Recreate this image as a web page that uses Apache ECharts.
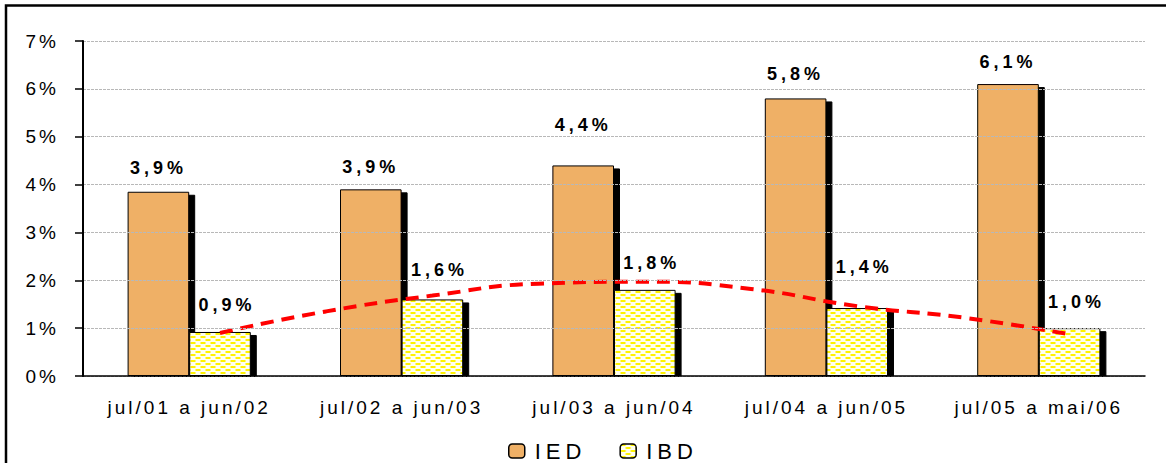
<!DOCTYPE html>
<html>
<head>
<meta charset="utf-8">
<script src="https://cdn.jsdelivr.net/npm/echarts@6/dist/echarts.min.js"></script>
<style>
  html, body { margin: 0; padding: 0; background: #fff; }
  #chart { width: 1166px; height: 463px; }
</style>
</head>
<body>
<div id="chart"></div>
<script>
// ---- data ----
const categories = ['jul/01 a jun/02', 'jul/02 a jun/03', 'jul/03 a jun/04', 'jul/04 a jun/05', 'jul/05 a mai/06'];
const iedValues = [3.85, 3.9, 4.4, 5.8, 6.1];
const ibdValues = [0.92, 1.6, 1.8, 1.42, 1.0];
// trend line readings (red dashed), at each IBD bar centre and halfway between
const trendSteps = [0, 0.5, 1, 1.5, 2, 2.5, 3, 3.5, 4];
const trendValues = [0.9, 1.35, 1.68, 1.93, 1.97, 1.82, 1.46, 1.22, 0.87];
const yTicks = [0, 1, 2, 3, 4, 5, 6, 7];

// ---- layout / style ----
const BAR_FRAC = 0.29;           // bar width as fraction of category band
const FONT = 'Liberation Sans, Arial, sans-serif';
const iedLabelDist = [15, 13, 31, 15, 13];
const ibdLabelDist = [18, 20, 18, 32, 17];
const ibdLabelDx = 7;

const fmt = v => v.toFixed(1).replace('.', ',') + '%';

const trendData = trendSteps.map((s, i) => [s + 0.5 + BAR_FRAC / 2, trendValues[i]]);

// IBD fill pattern: pale cream with staggered yellow dashes
function makePattern() {
  const c = document.createElement('canvas');
  c.width = 10; c.height = 6;
  const g = c.getContext('2d');
  g.fillStyle = '#FFFFF2';
  g.fillRect(0, 0, 10, 6);
  g.fillStyle = '#FFF200';
  g.fillRect(0.5, 0, 5, 2);
  g.fillRect(5.5, 3, 5, 2);
  g.fillRect(-4.5, 3, 5, 2);
  return c;
}
const ibdFill = { image: makePattern(), repeat: 'repeat' };

const shadow = { shadowColor: '#000', shadowBlur: 0, shadowOffsetX: 6, shadowOffsetY: 3 };

const chart = echarts.init(document.getElementById('chart'), null, { renderer: 'svg' });
chart.setOption({
  animation: false,
  backgroundColor: '#fff',
  textStyle: { fontFamily: FONT },
  graphic: [{
    type: 'rect', z: 100, silent: true,
    shape: { x: 6, y: 5.5, width: 1175, height: 475 },
    style: { fill: 'none', stroke: '#000', lineWidth: 2.5 }
  }, {
    // hides the part of the bar shadows that falls below the category axis
    type: 'rect', z: 6, silent: true,
    shape: { x: 84, y: 377, width: 1070, height: 6 },
    style: { fill: '#fff' }
  }],
  grid: { left: 83, right: 21, top: 41, bottom: 87, containLabel: false },
  legend: {
    left: 503, top: 435,
    itemWidth: 16, itemHeight: 14, itemGap: 48,
    data: ['IED', 'IBD'],
    textStyle: { fontSize: 22, color: '#000', fontFamily: FONT, padding: [0, 0, 0, 5] },
    itemStyle: { borderColor: '#000', borderWidth: 1.5, shadowBlur: 0, shadowOffsetX: 0, shadowOffsetY: 0, shadowColor: 'rgba(0,0,0,0)' }
  },
  xAxis: [{
    type: 'category', data: categories, z: 10,
    axisLine: { lineStyle: { color: '#000', width: 1.5 } },
    axisTick: { length: 6, lineStyle: { color: '#000', width: 1.5 } },
    axisLabel: { color: '#000', fontSize: 19, margin: 22, fontFamily: FONT, interval: 0 },
    splitLine: { show: false }
  }, {
    type: 'value', min: 0, max: categories.length, show: false
  }],
  yAxis: {
    type: 'value', min: yTicks[0], max: yTicks[yTicks.length - 1], interval: 1, z: 10,
    axisLine: { show: true, lineStyle: { color: '#000', width: 2 } },
    axisTick: { show: true, length: 8, lineStyle: { color: '#000', width: 1.5 } },
    axisLabel: { color: '#000', fontSize: 19, margin: 24, fontFamily: FONT, formatter: '{value}%' },
    splitLine: { show: true, lineStyle: { color: '#b8b8b8', type: [3, 1], width: 1 } }
  },
  series: [{
    name: 'IED', type: 'bar', barWidth: (BAR_FRAC * 100) + '%', barGap: '0%',
    data: iedValues.map((v, i) => ({ value: v, label: { distance: iedLabelDist[i] } })),
    itemStyle: Object.assign({ color: '#EFB066', borderColor: '#000', borderWidth: 1 }, shadow),
    label: { show: true, position: 'top', color: '#000', fontWeight: 'bold', fontSize: 18, fontFamily: FONT, formatter: p => fmt(p.value) },
    z: 2
  }, {
    name: 'IBD', type: 'bar', barWidth: (BAR_FRAC * 100) + '%', barGap: '0%',
    data: ibdValues.map((v, i) => ({ value: v, label: { distance: ibdLabelDist[i] } })),
    itemStyle: Object.assign({ color: ibdFill, borderColor: '#000', borderWidth: 1 }, shadow),
    label: { show: true, position: 'top', offset: [ibdLabelDx, 0], color: '#000', fontWeight: 'bold', fontSize: 18, fontFamily: FONT, formatter: p => fmt(p.value) },
    z: 2
  }, {
    name: 'trend', type: 'line', xAxisIndex: 1, yAxisIndex: 0,
    data: trendData, smooth: true, symbol: 'none',
    lineStyle: { color: '#FF0000', width: 4, type: [13, 8], cap: 'butt' },
    z: 7, silent: true
  }]
});

function spaceText() {
  document.querySelectorAll('#chart text').forEach(t => {
    const cs = getComputedStyle(t);
    const fs = parseFloat(cs.fontSize);
    const bold = (cs.fontWeight === 'bold' || parseInt(cs.fontWeight) >= 600);
    let ls = 3;
    if (fs >= 21) ls = 5;
    else if (bold) ls = 4;
    t.style.letterSpacing = ls + 'px';
  });
}
chart.on('finished', spaceText);
setTimeout(spaceText, 50);
</script>
</body>
</html>
